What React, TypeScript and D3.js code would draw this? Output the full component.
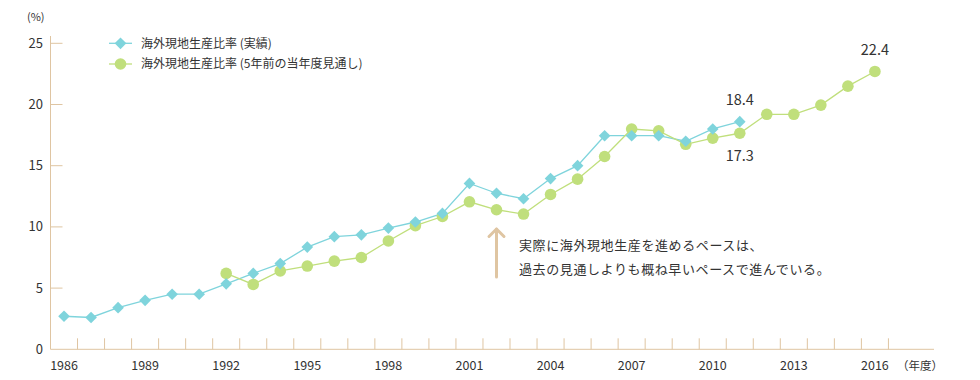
import React from "react";
import * as d3 from "d3";

const years = d3.range(1986, 2017);
const actualYears = d3.range(1986, 2012);
const actualValues = [2.7, 2.6, 3.4, 4.0, 4.5, 4.5, 5.35, 6.2, 7.0, 8.35, 9.2, 9.35, 9.9, 10.4, 11.1, 13.55, 12.75, 12.3, 13.95, 15.0, 17.45, 17.45, 17.45, 17.0, 18.0, 18.6];
const forecastYears = d3.range(1992, 2017);
const forecastValues = [6.2, 5.3, 6.4, 6.8, 7.2, 7.5, 8.85, 10.1, 10.85, 12.05, 11.4, 11.05, 12.65, 13.9, 15.75, 18.0, 17.85, 16.75, 17.25, 17.65, 19.2, 19.2, 19.95, 21.5, 22.7];
const yTicks = [0, 5, 10, 15, 20, 25];
const xLabelYears = [1986, 1989, 1992, 1995, 1998, 2001, 2004, 2007, 2010, 2013, 2016];
const legendLabels = ["海外現地生産比率 (実績)", "海外現地生産比率 (5年前の当年度見通し)"];
const noteLines = ["実際に海外現地生産を進めるペースは、", "過去の見通しよりも概ね早いペースで進んでいる。"];
const callouts = [
  { year: 2011, text: "18.4", dy: -17 },
  { year: 2011, text: "17.3", dy: 28 },
  { year: 2016, text: "22.4", dy: -16 },
];

const BLUE = "#7fd4dc";
const GREEN = "#c0df7c";
const AXIS = "#dfc5a2";
const TEXT = "#333";
const FONT = "'Noto Sans CJK JP', 'Noto Sans', sans-serif";

export default function App() {
  const W = 980, H = 380;
  const x0 = 50.5, band = 27.03;
  const x = d3.scaleLinear().domain([1985.5, 2016.5]).range([x0, x0 + band * 31]);
  const y = d3.scaleLinear().domain([0, 25]).range([349.3, 43.3]);

  const actual = actualYears.map((yr, i) => [yr, actualValues[i]] as [number, number]);
  const forecast = forecastYears.map((yr, i) => [yr, forecastValues[i]] as [number, number]);
  const line = d3.line<[number, number]>().x(d => x(d[0])).y(d => y(d[1]));
  const diamond = d3.symbol().type(d3.symbolSquare).size(68)();

  const valueOf = (yr: number, label: string) => {
    if (label === "18.4") return actualValues[actualYears.indexOf(yr)];
    return forecastValues[forecastYears.indexOf(yr)];
  };

  return (
    <div style={{ position: "absolute", left: 0, top: 0 }}>
      <svg width={W} height={H} style={{ display: "block", fontFamily: FONT }}>
        <rect width={W} height={H} fill="#fff" />
        {/* y axis */}
        <line x1={x0} x2={x0} y1={36} y2={y(0)} stroke={AXIS} strokeWidth={1} />
        {yTicks.map(t => (
          <g key={t}>
            {t > 0 && <line x1={x0} x2={x0 + 12} y1={y(t)} y2={y(t)} stroke={AXIS} />}
            <text x={43} y={y(t)} dy="0.35em" textAnchor="end" fontSize={13} fill={TEXT}>{t}</text>
          </g>
        ))}
        <text x={27} y={21} fontSize={11} fill={TEXT}>(%)</text>
        {/* x axis */}
        <line x1={x0} x2={934} y1={y(0)} y2={y(0)} stroke={AXIS} strokeWidth={1} />
        {years.map(yr => (
          <line key={yr} x1={x(yr + 0.5)} x2={x(yr + 0.5)} y1={y(0)} y2={y(0) - 11} stroke={AXIS} />
        ))}
        {xLabelYears.map(yr => (
          <text key={yr} x={x(yr)} y={370} textAnchor="middle" fontSize={12.5} fill={TEXT}>{yr}</text>
        ))}
        <text x={897} y={370} fontSize={11.5} fill={TEXT}>（年度）</text>

        {/* lines */}
        <path d={line(actual) || ""} fill="none" stroke={BLUE} strokeWidth={1.3} />
        <path d={line(forecast) || ""} fill="none" stroke={GREEN} strokeWidth={1.3} />
        {forecast.map(d => (
          <circle key={"f" + d[0]} cx={x(d[0])} cy={y(d[1])} r={5.8} fill={GREEN} />
        ))}
        {actual.map(d => (
          <path key={"a" + d[0]} d={diamond || ""} transform={`translate(${x(d[0])},${y(d[1])}) rotate(45)`} fill={BLUE} />
        ))}

        {/* callouts */}
        {callouts.map(c => (
          <text key={c.text} x={x(c.year)} y={y(valueOf(c.year, c.text)) + c.dy} textAnchor="middle" fontSize={14.5} fill={TEXT}>{c.text}</text>
        ))}

        {/* legend */}
        {legendLabels.map((lab, i) => (
          <g key={lab} transform={`translate(109,${43.3 + i * 20.7})`}>
            <line x1={0} x2={23} y1={0} y2={0} stroke={i === 0 ? BLUE : GREEN} strokeWidth={1.3} />
            {i === 0 ? (
              <path d={diamond || ""} transform="translate(11.5,0) rotate(45)" fill={BLUE} />
            ) : (
              <circle cx={11.5} cy={0} r={5.8} fill={GREEN} />
            )}
            <text x={32} y={0} dy="0.35em" fontSize={12} fill={TEXT}>{lab}</text>
          </g>
        ))}

        {/* annotation arrow */}
        <g stroke={AXIS} strokeWidth={3} fill="none" strokeLinecap="round" strokeLinejoin="round">
          <line x1={496.5} x2={496.5} y1={229} y2={277} />
          <polyline points="489,236.5 496.5,229 504,236.5" />
        </g>
        {noteLines.map((t, i) => (
          <text key={i} x={519} y={245.7 + i * 23.5} dy="0.35em" fontSize={13} letterSpacing={0.6} fill={TEXT}>{t}</text>
        ))}
      </svg>
    </div>
  );
}
